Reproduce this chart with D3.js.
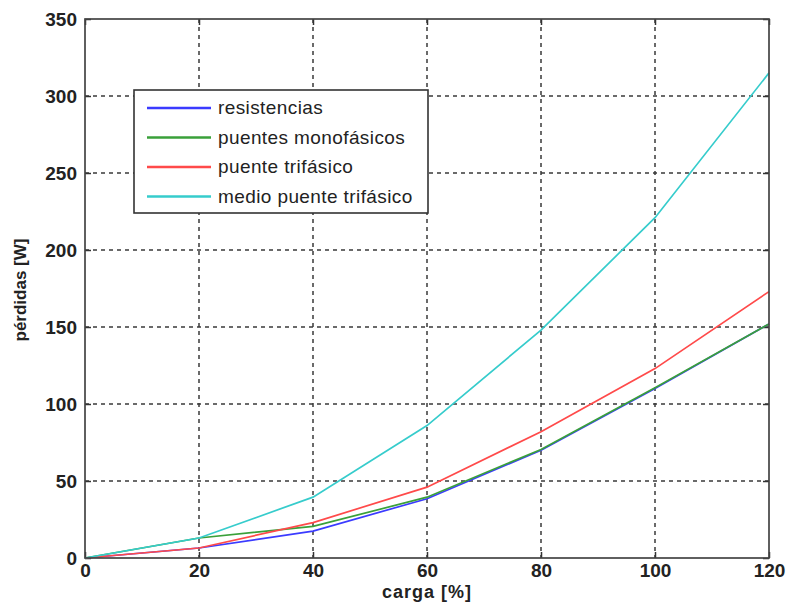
<meta charset="utf-8">
<script src="https://d3js.org/d3.v7.min.js"></script>
<style>
  body { margin: 0; background: #fff; }
  text { font-family: "Liberation Sans", Arial, sans-serif; fill: #222; }
  .grid line { stroke: #3a3a3a; stroke-width: 1.5px; stroke-dasharray: 4,4; }
  .tick text { font-size: 19px; font-weight: bold; }
  .serie { fill: none; stroke-width: 1.7px; }
</style>
<body>
<script>
  var carga = [0, 20, 40, 60, 80, 100, 120];
  var resistencias = [0, 6.5, 17.5, 38.5, 70, 110, 152];
  var monofasicos = [0, 13, 20.5, 39.5, 70.5, 110.5, 152];
  var trifasico = [0, 6.5, 23, 46, 82, 123, 173];
  var medioPuente = [0, 13, 39.5, 86, 148, 221, 315];
  var xTicks = [0, 20, 40, 60, 80, 100, 120];
  var yTicks = [0, 50, 100, 150, 200, 250, 300, 350];

  var series = [
    {name: 'resistencias', values: resistencias, color: '#3b3bff'},
    {name: 'puentes monofásicos', values: monofasicos, color: '#3aa03a'},
    {name: 'puente trifásico', values: trifasico, color: '#ff4a4a'},
    {name: 'medio puente trifásico', values: medioPuente, color: '#36cccc'}
  ];

  var W = 787, H = 616;
  var m = {left: 85, top: 19, right: 18, bottom: 58};
  var w = W - m.left - m.right, h = H - m.top - m.bottom;

  var svg = d3.select('body').append('svg').attr('width', W).attr('height', H);
  var g = svg.append('g').attr('transform', 'translate(' + m.left + ',' + m.top + ')');

  var x = d3.scaleLinear().domain([0, 120]).range([0, w]);
  var y = d3.scaleLinear().domain([0, 350]).range([h, 0]);

  // grid
  g.append('g').attr('class', 'grid').selectAll('line').data(xTicks.slice(1, -1)).enter()
    .append('line').attr('x1', x).attr('x2', x).attr('y1', 0).attr('y2', h);
  g.append('g').attr('class', 'grid').selectAll('line').data(yTicks.slice(1, -1)).enter()
    .append('line').attr('y1', y).attr('y2', y).attr('x1', 0).attr('x2', w);

  // axes
  g.append('g').attr('transform', 'translate(0,' + h + ')')
    .call(d3.axisBottom(x).tickValues(xTicks).tickSizeInner(-6).tickSizeOuter(0).tickPadding(6));
  g.append('g')
    .call(d3.axisLeft(y).tickValues(yTicks).tickSizeInner(-6).tickSizeOuter(0).tickPadding(8));
  g.append('g').call(d3.axisTop(x).tickValues(xTicks).tickSizeInner(-6).tickSizeOuter(0).tickFormat(''));
  g.append('g').attr('transform', 'translate(' + w + ',0)')
    .call(d3.axisRight(y).tickValues(yTicks).tickSizeInner(-6).tickSizeOuter(0).tickFormat(''));
  g.selectAll('.domain').remove();
  g.selectAll('.tick line').attr('stroke', '#333').attr('stroke-width', 1.5);
  g.selectAll('.tick text').attr('fill', '#222');

  // lines
  var line = d3.line().x(function(d, i) { return x(carga[i]); }).y(function(d) { return y(d); });
  g.selectAll('path.serie').data(series).enter().append('path')
    .attr('class', 'serie')
    .attr('stroke', function(d) { return d.color; })
    .attr('d', function(d) { return line(d.values); });

  // frame
  g.append('rect').attr('width', w).attr('height', h)
    .attr('fill', 'none').attr('stroke', '#444').attr('stroke-width', 1.7);

  // legend
  var lg = svg.append('g').attr('transform', 'translate(134,90)');
  lg.append('rect').attr('width', 294).attr('height', 123)
    .attr('fill', '#fff').attr('stroke', '#333').attr('stroke-width', 1.6);
  var items = lg.selectAll('g.item').data(series).enter().append('g')
    .attr('transform', function(d, i) { return 'translate(0,' + (18 + i * 29.5) + ')'; });
  items.append('line').attr('x1', 13).attr('x2', 77).attr('y1', 0).attr('y2', 0)
    .attr('stroke', function(d) { return d.color; }).attr('stroke-width', 2.4);
  items.append('text').attr('x', 84).attr('y', 6).attr('font-size', '19px')
    .attr('letter-spacing', '0.4px')
    .text(function(d) { return d.name; });

  // labels
  svg.append('text').attr('x', m.left + w / 2).attr('y', 598).attr('text-anchor', 'middle')
    .attr('font-size', '18px').attr('font-weight', 'bold').attr('letter-spacing', '1px')
    .text('carga [%]');
  svg.append('text').attr('transform', 'translate(26,' + 290 + ') rotate(-90)')
    .attr('text-anchor', 'middle').attr('font-size', '17px').attr('font-weight', 'bold')
    .text('pérdidas [W]');
</script>
</body>
</html>
